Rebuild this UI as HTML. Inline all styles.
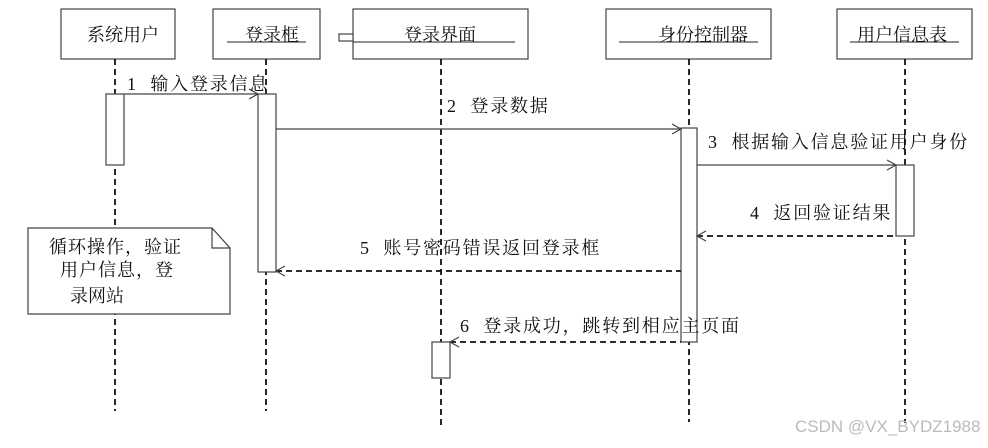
<!DOCTYPE html>
<html><head><meta charset="utf-8"><style>
body{margin:0;background:#fff;width:988px;height:443px;overflow:hidden}
text{font-family:"Liberation Serif","Noto Serif CJK SC",serif;font-size:18px;fill:#111;white-space:pre}
.m{letter-spacing:1.8px}
</style></head><body>
<svg width="988" height="443" viewBox="0 0 988 443" xmlns="http://www.w3.org/2000/svg">
<g fill="#fff" stroke="#444" stroke-width="1.2">
<rect x="61" y="9" width="114" height="50"/>
<rect x="213" y="9" width="107" height="50"/>
<rect x="353" y="9" width="175" height="50"/>
<rect x="339" y="34" width="14" height="7"/>
<rect x="606" y="9" width="165" height="50"/>
<rect x="837" y="9" width="135" height="50"/>
</g>
<g stroke="#222" stroke-width="1">
<line x1="227" y1="42" x2="306" y2="42"/>
<line x1="353" y1="42" x2="515" y2="42"/>
<line x1="619" y1="42" x2="758" y2="42"/>
<line x1="850" y1="42" x2="959" y2="42"/>
</g>
<text x="87" y="41">系统用户</text>
<text x="245" y="41">登录框</text>
<text x="404" y="41">登录界面</text>
<text x="658" y="41">身份控制器</text>
<text x="857" y="41">用户信息表</text>
<g stroke="#111" stroke-width="1.8" stroke-dasharray="6,4" fill="none">
<line x1="115" y1="59" x2="115" y2="411"/>
<line x1="266" y1="59" x2="266" y2="411"/>
<line x1="441" y1="59" x2="441" y2="427"/>
<line x1="689" y1="59" x2="689" y2="422"/>
<line x1="905" y1="59" x2="905" y2="423"/>
</g>
<g fill="#fff" stroke="#444" stroke-width="1.2">
<rect x="106" y="94" width="18" height="71"/>
<rect x="258" y="94" width="18" height="178"/>
<rect x="681" y="128" width="16" height="214"/>
<rect x="896" y="165" width="18" height="71"/>
<rect x="432" y="342" width="18" height="36"/>
<path d="M28 228 H212 L230 248 V314 H28 Z"/>
<path d="M212 228 V248 H230" fill="none"/>
</g>
<g stroke="#444" stroke-width="1.2" fill="none">
<line x1="124" y1="94" x2="258" y2="94"/><path d="M249 89 L258 94 L249 99"/>
<line x1="276" y1="129" x2="681" y2="129"/><path d="M672 124 L681 129 L672 134"/>
<line x1="697" y1="165" x2="896" y2="165"/><path d="M887 160 L896 165 L887 170"/>
</g>
<g stroke="#111" stroke-width="1.8" stroke-dasharray="6,4" fill="none">
<line x1="697" y1="236" x2="896" y2="236"/>
<line x1="276" y1="271" x2="681" y2="271"/>
<line x1="450" y1="342" x2="681" y2="342"/>
</g>
<g stroke="#444" stroke-width="1.2" fill="none">
<path d="M706 231 L697 236 L706 241"/>
<path d="M285 266 L276 271 L285 276"/>
<path d="M459 337 L450 342 L459 347"/>
</g>
<text class="m" x="127" y="90">1  输入登录信息</text>
<text class="m" x="447" y="112">2  登录数据</text>
<text class="m" x="708" y="148">3  根据输入信息验证用户身份</text>
<text class="m" x="750" y="219">4  返回验证结果</text>
<text class="m" x="360" y="254">5  账号密码错误返回登录框</text>
<text class="m" x="460" y="332">6  登录成功，跳转到相应主页面</text>
<text x="49" y="253" style="letter-spacing:1px">循环操作，验证</text>
<text x="60" y="276" style="letter-spacing:1px">用户信息，登</text>
<text x="70" y="302">录网站</text>
<text x="795" y="432" style="font-family:'Liberation Sans',sans-serif;font-size:17px;fill:#bbb">CSDN @VX_BYDZ1988</text>
</svg>
</body></html>
